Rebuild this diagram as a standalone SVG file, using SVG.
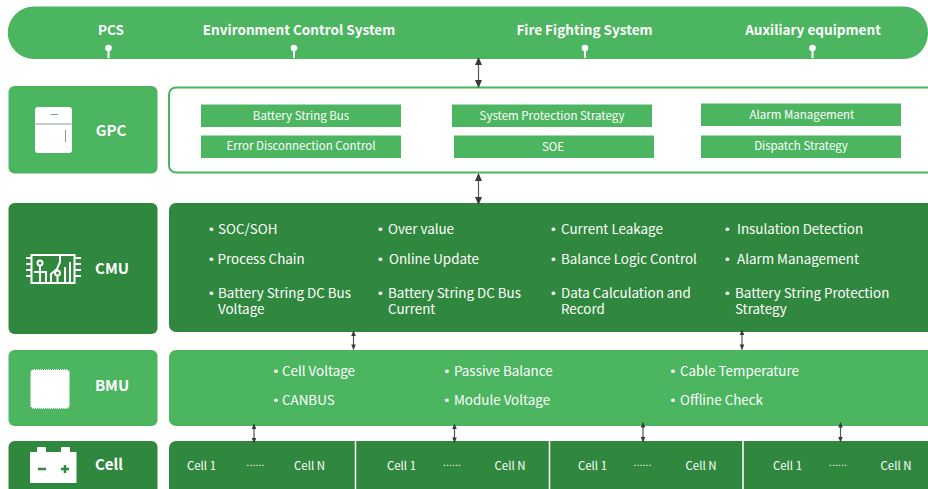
<svg xmlns="http://www.w3.org/2000/svg" width="928" height="489" viewBox="0 0 928 489">
<defs>
<marker id="ah" viewBox="0 0 8 8" refX="7" refY="4" markerWidth="8" markerHeight="8" markerUnits="userSpaceOnUse" orient="auto-start-reverse"><path d="M0 0.500L8 4L0 7.500Z" fill="#3a3a3a"/></marker>
<marker id="as" viewBox="0 0 6 6" refX="5.500" refY="3" markerWidth="5.500" markerHeight="5.500" markerUnits="userSpaceOnUse" orient="auto-start-reverse"><path d="M0 0.500L6 3L0 5.500Z" fill="#3a3a3a"/></marker>
</defs>
<style>
text{font-family:"Noto Sans CJK SC","Noto Sans",sans-serif;fill:#fff}
.l{fill:#4cb560}.d{fill:#2f883d}
.t{font-size:13.550px;font-weight:700;text-anchor:middle}
.h{font-size:15px;font-weight:700;text-anchor:middle}
.b{font-size:11.500px;text-anchor:middle}
.i{font-size:13.400px}
.u{font-family:"Liberation Sans",sans-serif}
.c{font-size:11.400px;text-anchor:middle}
.dots{font-family:"Liberation Sans",sans-serif;font-size:11px;text-anchor:middle}
.pin{fill:#fff}
.cn line{stroke:#555;stroke-width:1.200}
</style>
<rect width="928" height="489" fill="#fff"/>
<g id="top-bar">
<path class="l" d="M34 6.500H904A24 26.250 0 0 1 928 32.750V33A24 26 0 0 1 904 59H34A26.250 26.250 0 0 1 34 6.500Z"/>
<text class="t" x="111" y="35">PCS</text>
<text class="t" x="299" y="35">Environment Control System</text>
<text class="t" x="584.500" y="35">Fire Fighting System</text>
<text class="t" x="813" y="35">Auxiliary equipment</text>
<g class="pin"><circle cx="108.500" cy="48" r="3.300"/><rect x="107.500" y="49" width="2" height="9"/><circle cx="294" cy="48" r="3.300"/><rect x="293" y="49" width="2" height="9"/><circle cx="585" cy="48" r="3.300"/><rect x="584" y="49" width="2" height="9"/><circle cx="812.500" cy="48" r="3.300"/><rect x="811.500" y="49" width="2" height="9"/></g>
</g>
<g id="gpc">
<rect class="l" x="8.500" y="86" width="149" height="87.500" rx="6"/>
<rect x="35" y="107" width="37" height="46" rx="3" fill="#fff"/>
<path d="M35.500 124H71.500" stroke="#8a9a8c" stroke-width="1"/>
<path d="M51 114.500H58M65.500 130V142" stroke="#8a9a8c" stroke-width="1"/>
<text class="h" x="111" y="135.500">GPC</text>
</g>
<g id="gpc-panel">
<rect x="169" y="87.500" width="780" height="85" rx="7" fill="#fff" stroke="#4cb560" stroke-width="2"/>
<rect class="l" x="201" y="104.500" width="200" height="22.500"/><text class="b" x="301" y="120">Battery String Bus</text>
<rect class="l" x="201" y="135.500" width="200" height="22.500"/><text class="b" x="301" y="150">Error Disconnection Control</text>
<rect class="l" x="452" y="104.500" width="200" height="22.500"/><text class="b" x="552" y="120">System Protection Strategy</text>
<rect class="l" x="454" y="135.500" width="200" height="22.500"/><text class="b" x="553" y="151">SOE</text>
<rect class="l" x="701" y="103.500" width="200" height="22.500"/><text class="b" x="802" y="119">Alarm Management</text>
<rect class="l" x="701" y="135.500" width="200" height="22.500"/><text class="b" x="801" y="150">Dispatch Strategy</text>
</g>
<g id="cmu">
<rect class="d" x="8.500" y="203" width="149" height="131" rx="6"/>
<g fill="none" stroke="#fff" stroke-width="2">
<rect x="31.500" y="255" width="43" height="28"/>
<path d="M26 258H31M26 264H31M26 270H31M26 276H31M75 258H81M75 264H81M75 270H81M75 276H81"/>
<circle cx="40" cy="263" r="2.500"/><circle cx="57.500" cy="273" r="2.500"/>
<path d="M40 266V283M34 272H46V283M51 283V274L57 269L60 262V255M57.500 276V283M65 283V267M70 283V262"/>
</g>
<text class="h" x="112" y="274">CMU</text>
</g>
<g id="cmu-panel">
<rect class="d" x="169" y="203" width="780" height="129" rx="7"/>
<g class="i">
<text y="234"><tspan class="u" x="209">•</tspan><tspan x="218">SOC/SOH</tspan></text>
<text y="264"><tspan class="u" x="209">•</tspan><tspan x="217.500">Process Chain</tspan></text>
<text y="298"><tspan class="u" x="209">•</tspan><tspan x="218">Battery String DC Bus</tspan></text><text x="218" y="314">Voltage</text>
<text y="234"><tspan class="u" x="378">•</tspan><tspan x="388">Over value</tspan></text>
<text y="264"><tspan class="u" x="378">•</tspan><tspan x="389">Online Update</tspan></text>
<text y="298"><tspan class="u" x="378">•</tspan><tspan x="388">Battery String DC Bus</tspan></text><text x="388" y="314">Current</text>
<text y="234"><tspan class="u" x="551">•</tspan><tspan x="561">Current Leakage</tspan></text>
<text y="264"><tspan class="u" x="551">•</tspan><tspan x="561">Balance Logic Control</tspan></text>
<text y="298"><tspan class="u" x="551">•</tspan><tspan x="561">Data Calculation and</tspan></text><text x="561" y="314">Record</text>
<text y="234"><tspan class="u" x="725">•</tspan><tspan x="737">Insulation Detection</tspan></text>
<text y="264"><tspan class="u" x="725">•</tspan><tspan x="737">Alarm Management</tspan></text>
<text y="298"><tspan class="u" x="725">•</tspan><tspan x="735">Battery String Protection</tspan></text><text x="735" y="314">Strategy</text>
</g>
</g>
<g id="bmu">
<rect class="l" x="8.500" y="350" width="149" height="76" rx="6"/>
<rect x="31" y="370" width="38" height="38" rx="3" fill="#fff" stroke="#fff" stroke-width="2" stroke-dasharray="1 1"/>
<text class="h" x="112" y="390.500">BMU</text>
</g>
<g id="bmu-panel">
<rect class="l" x="169" y="350" width="780" height="76" rx="7"/>
<g class="i">
<text y="376"><tspan class="u" x="273.500">•</tspan><tspan x="282">Cell Voltage</tspan></text>
<text y="405"><tspan class="u" x="273.500">•</tspan><tspan x="282">CANBUS</tspan></text>
<text y="376"><tspan class="u" x="444.500">•</tspan><tspan x="454">Passive Balance</tspan></text>
<text y="405"><tspan class="u" x="444.500">•</tspan><tspan x="454">Module Voltage</tspan></text>
<text y="376"><tspan class="u" x="670.500">•</tspan><tspan x="680">Cable Temperature</tspan></text>
<text y="405"><tspan class="u" x="670.500">•</tspan><tspan x="680">Offline Check</tspan></text>
</g>
</g>
<g id="cell">
<rect class="d" x="8.500" y="441" width="149" height="60" rx="6"/>
<path fill="#fff" d="M30 452H37V448Q37 447 38 447H45Q46 447 46 448V452H61V448Q61 447 62 447H69Q70 447 70 448V452H76.500V483H30Z"/>
<path d="M38 469H46M61 469H69M65 465V473" stroke="#2f883d" stroke-width="2.500" fill="none"/>
<text class="h" x="109" y="469.500">Cell</text>
</g>
<g id="cell-panel">
<rect class="d" x="169" y="441" width="780" height="60" rx="7"/>
<path d="M355.500 441V489M549.500 441V489M743 441V489" stroke="#fff" stroke-width="1.500"/>
<g class="c">
<text x="201.500" y="470">Cell 1</text><text x="309.500" y="470">Cell N</text>
<text x="401.500" y="470">Cell 1</text><text x="510" y="470">Cell N</text>
<text x="592.500" y="470">Cell 1</text><text x="701" y="470">Cell N</text>
<text x="787.500" y="470">Cell 1</text><text x="896" y="470">Cell N</text>
</g>
<text class="dots" x="255.500" y="466">......</text><text class="dots" x="452" y="466">......</text><text class="dots" x="642.500" y="466">......</text><text class="dots" x="838" y="466">......</text>
</g>
<g id="connectors" class="cn">
<line x1="478.500" y1="58" x2="478.500" y2="87" marker-start="url(#ah)" marker-end="url(#ah)"/>
<line x1="478.500" y1="174" x2="478.500" y2="204" marker-start="url(#ah)" marker-end="url(#ah)"/>
<line x1="353.500" y1="331" x2="353.500" y2="349.500" marker-start="url(#as)" marker-end="url(#as)"/>
<line x1="742" y1="330" x2="742" y2="349.500" marker-start="url(#as)" marker-end="url(#as)"/>
<line x1="254" y1="424" x2="254" y2="443" marker-start="url(#as)" marker-end="url(#as)"/>
<line x1="454.500" y1="424" x2="454.500" y2="442.500" marker-start="url(#as)" marker-end="url(#as)"/>
<line x1="643" y1="422.500" x2="643" y2="442" marker-start="url(#as)" marker-end="url(#as)"/>
<line x1="840.500" y1="422.500" x2="840.500" y2="442" marker-start="url(#as)" marker-end="url(#as)"/>
</g>
</svg>
